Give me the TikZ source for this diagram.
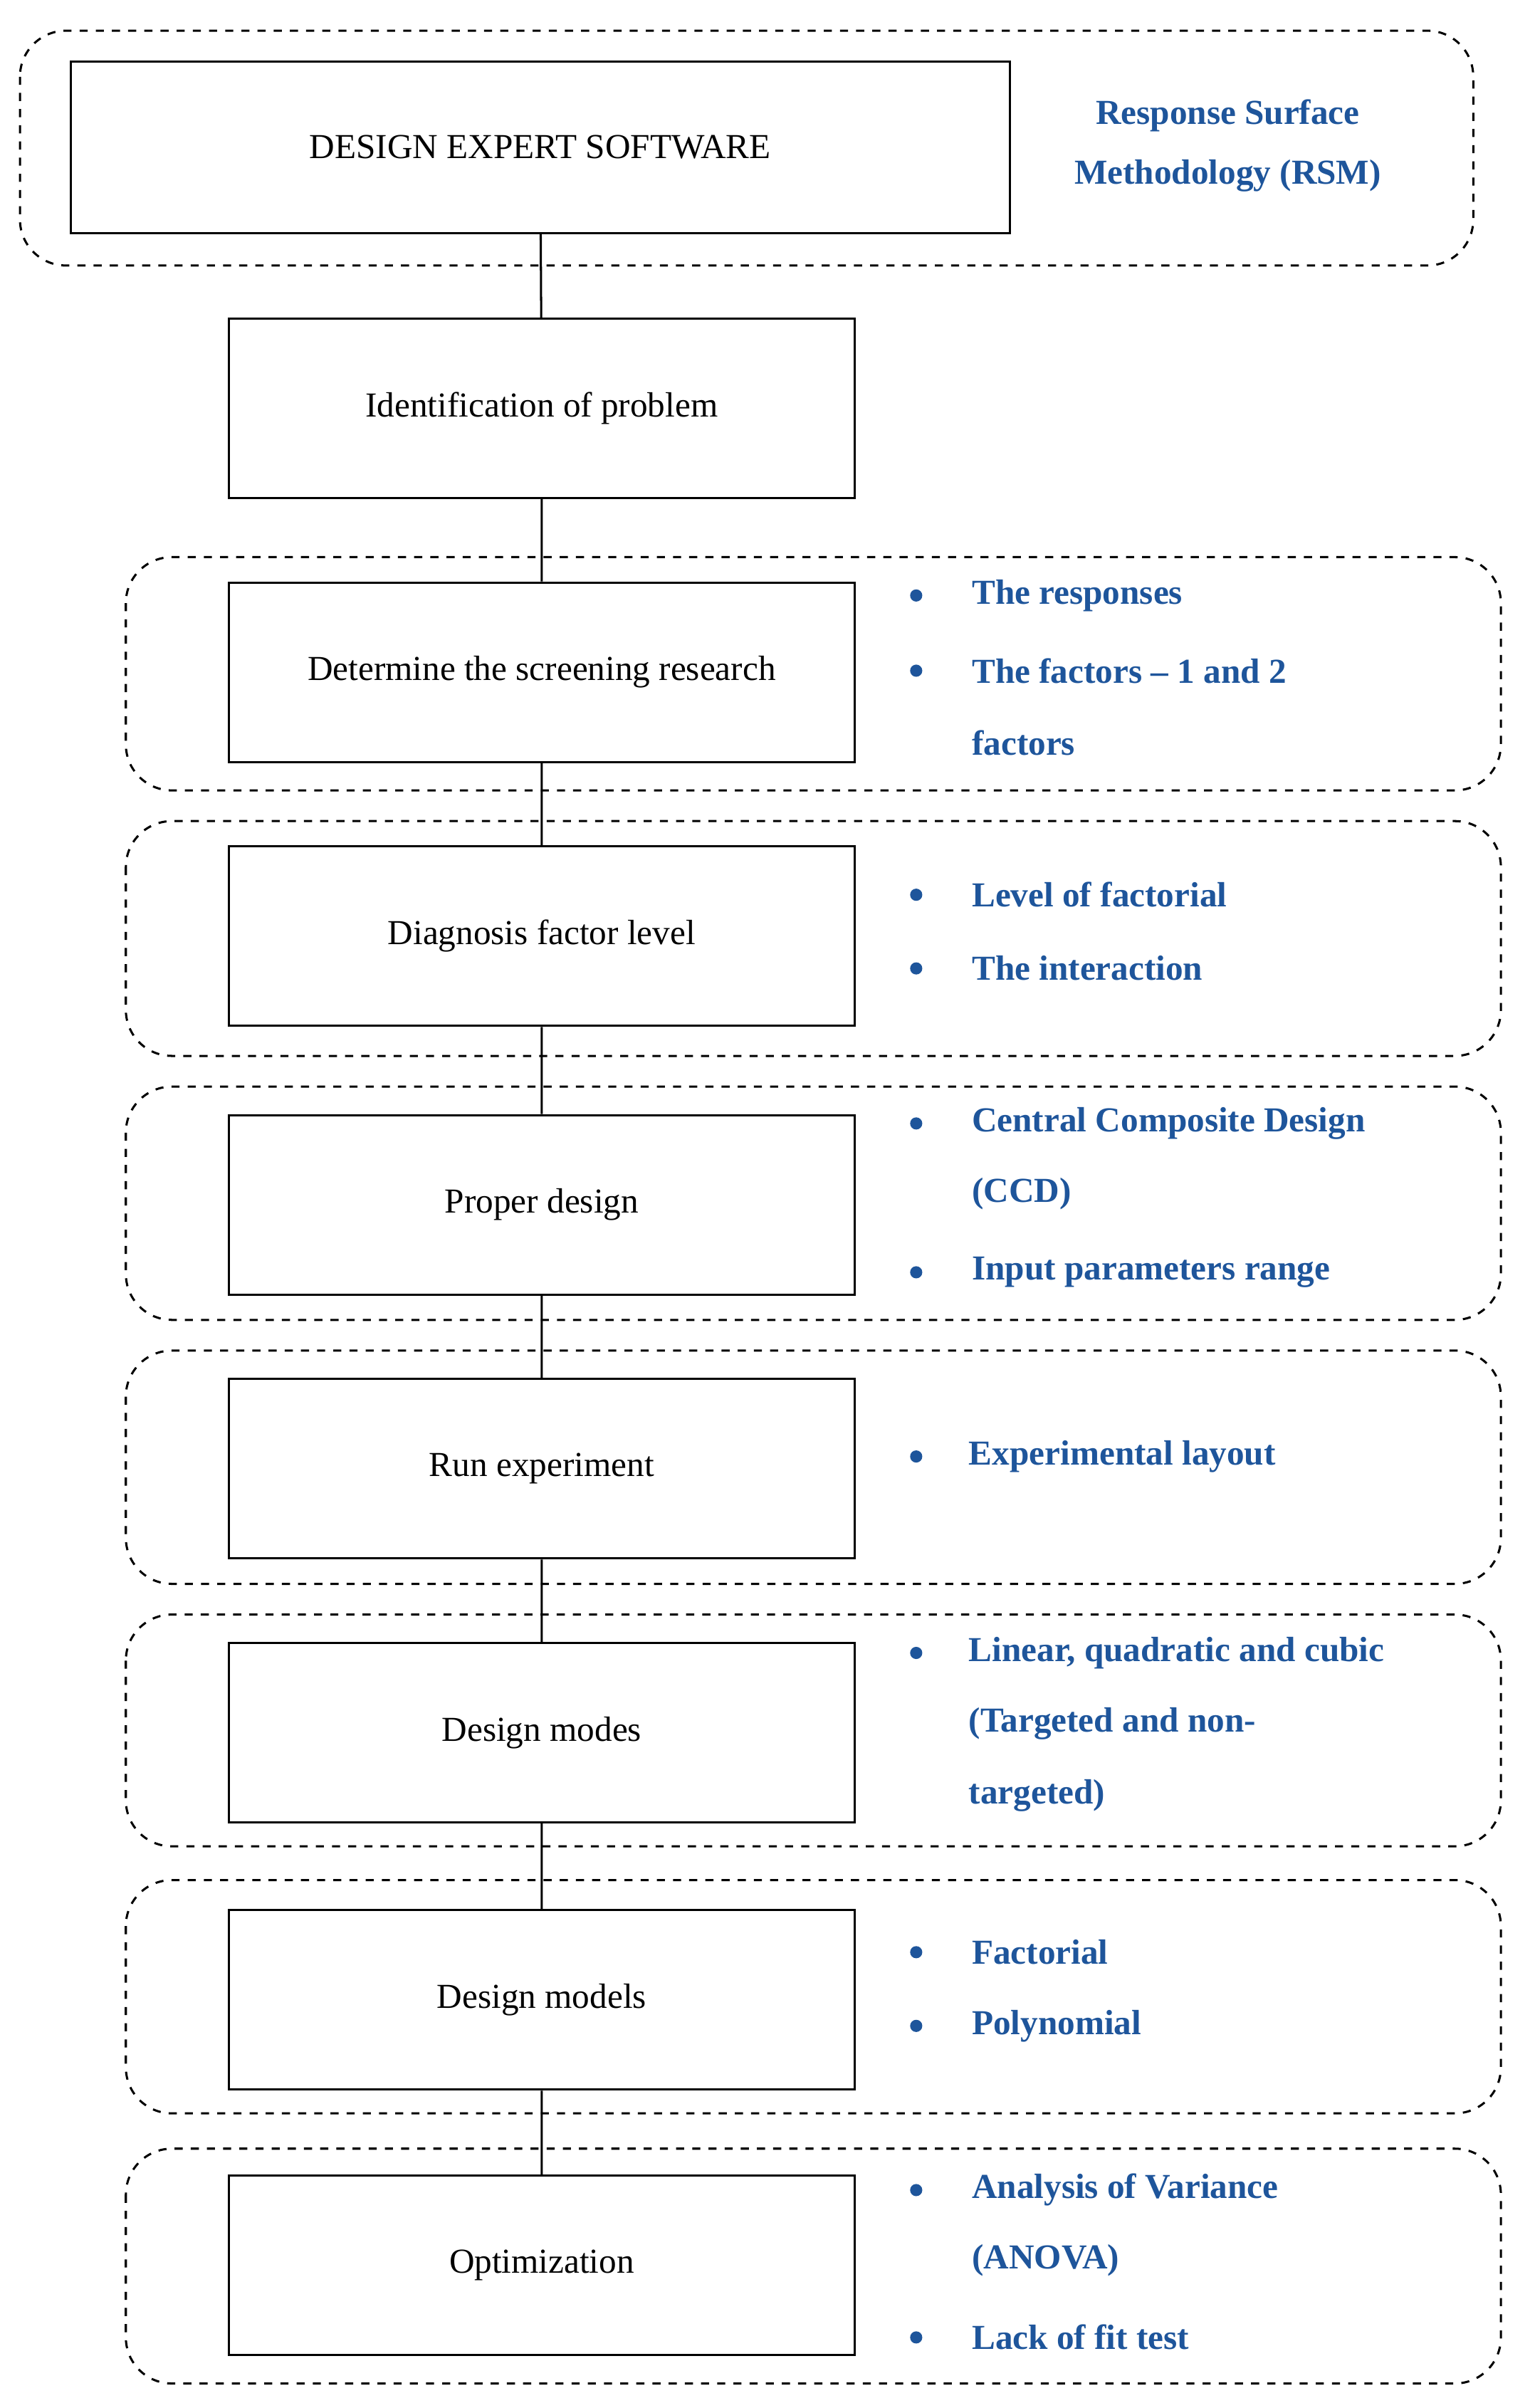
\documentclass[tikz,border=0pt]{standalone}
\usepackage{fontspec}
\setmainfont{Liberation Serif}
\begin{document}
\begin{tikzpicture}[x=0.02cm,y=-0.02cm,
  box/.style={draw,thick,minimum width=8.16cm,minimum height=2.34cm,font=\fontsize{13}{15}\selectfont,inner sep=0},
  grp/.style={draw,thick,dashed,rounded corners=0.6cm},
  blu/.style={text=rsm,font=\bfseries\fontsize{13}{15}\selectfont,anchor=west,inner sep=0},
  dot/.style={circle,fill=rsm,inner sep=1.6pt}]
\definecolor{rsm}{RGB}{30,85,155}
\useasboundingbox (0,0) rectangle (1000,1569);
\draw[grp] (13,20) rectangle (960,173);
\node[box,minimum width=12.24cm,minimum height=2.24cm] (b0) at (352,96) {DESIGN EXPERT SOFTWARE};
\node[text=rsm,font=\bfseries\fontsize{13}{15}\selectfont,align=center] (rsm) at (800,95) {Response Surface\\[0.25cm]Methodology (RSM)};
\node[box] (b1) at (353,266) {Identification of problem};
\foreach \t/\b in {363/515,535/688,708/860,880/1032,1052/1203,1225/1377,1400/1553}
  \draw[grp] (82,\t) rectangle (978,\b);
\node[box] (b2) at (353,438) {Determine the screening research};
\node[box] (b3) at (353,610) {Diagnosis factor level};
\node[box] (b4) at (353,785) {Proper design};
\node[box] (b5) at (353,957) {Run experiment};
\node[box] (b6) at (353,1129) {Design modes};
\node[box] (b7) at (353,1303) {Design models};
\node[box] (b8) at (353,1476) {Optimization};
\draw[thick] (b0)--(b1) (b1)--(b2) (b2)--(b3) (b3)--(b4) (b4)--(b5) (b5)--(b6) (b6)--(b7) (b7)--(b8);
\foreach \y in {388,437,583,631,732,829,949,1077,1272,1320,1427,1523}
  \node[dot] at (597,\y) {};
\node[blu] at (633,388) {The responses};
\node[blu] at (633,437) {The factors – 1 and 2};
\node[blu] at (633,484) {factors};
\node[blu] at (633,583) {Level of factorial};
\node[blu] at (633,631) {The interaction};
\node[blu] at (633,732) {Central Composite Design};
\node[blu] at (633,778) {(CCD)};
\node[blu] at (633,829) {Input parameters range};
\node[blu] at (631,949) {Experimental layout};
\node[blu] at (631,1077) {Linear, quadratic and cubic};
\node[blu] at (631,1123) {(Targeted and non-};
\node[blu] at (631,1170) {targeted)};
\node[blu] at (633,1272) {Factorial};
\node[blu] at (633,1320) {Polynomial};
\node[blu] at (633,1427) {Analysis of Variance};
\node[blu] at (633,1473) {(ANOVA)};
\node[blu] at (633,1523) {Lack of fit test};
\end{tikzpicture}
\end{document}
